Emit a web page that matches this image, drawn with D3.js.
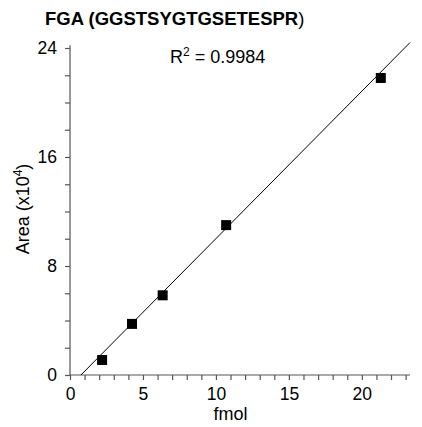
<!DOCTYPE html>
<html><head><meta charset="utf-8">
<script src="https://cdn.jsdelivr.net/npm/d3@7"></script>
<style>body{margin:0;background:#fff}svg{font-family:"Liberation Sans",Arial,sans-serif}</style>
</head><body><svg id="c" width="422" height="427"></svg>
<script>
const fmol = [2.2, 4.25, 6.35, 10.7, 21.3];
const area = [1.1, 3.75, 5.85, 11.0, 21.8];
const xTicks = [0, 5, 10, 15, 20];
const yTicks = [0, 8, 16, 24];
const fitSlope = 1.082;
const fitIntercept = -0.81;
const r2Label = "0.9984";

const svg = d3.select("#c");
const x = d3.scaleLinear().domain([0, 23.3]).range([70, 410]);
const y = d3.scaleLinear().domain([0, 24]).range([375, 48]);

const xAxis = svg.append("g").attr("transform","translate(0,375)")
  .call(d3.axisBottom(x).tickValues(d3.range(0,24,1)).tickSize(5).tickPadding(6).tickFormat(d => xTicks.includes(d) ? d : ""));
xAxis.select(".domain").attr("d", `M${x(0)},0H${x(23.3)}`);
const yAxis = svg.append("g").attr("transform","translate(70,0)")
  .call(d3.axisLeft(y).tickValues(d3.range(0,25,2)).tickSize(5).tickPadding(8).tickFormat(d => yTicks.includes(d) ? d : ""));
yAxis.select(".domain").attr("d", `M0,${y(0)}V${y(24.2)}`);
[xAxis, yAxis].forEach(a => {
  a.selectAll("path,line").attr("stroke","#555").attr("stroke-width",1.2);
  a.selectAll("text").attr("font-size",17.5).attr("fill","#000").attr("font-family","Liberation Sans, Arial, sans-serif");
});
xAxis.selectAll("text").attr("dy","0.8em");

// fit line
const x0 = -fitIntercept / fitSlope, x1 = 23.3;
svg.append("line").attr("x1", x(x0)).attr("y1", y(0)).attr("x2", x(x1)).attr("y2", y(fitSlope*x1+fitIntercept))
  .attr("stroke","#000").attr("stroke-width",1);

svg.selectAll("rect.pt").data(fmol).enter().append("rect").attr("class","pt")
  .attr("x",(d)=>x(d)-5).attr("y",(d,i)=>y(area[i])-5).attr("width",10).attr("height",10).attr("fill","#000");

const t = svg.append("text").attr("x",45).attr("y",25).attr("font-size",18.5).attr("font-weight","bold");
t.append("tspan").text("FGA (GGSTSYGTGSETESPR");
t.append("tspan").attr("font-weight","normal").text(")");

const r = svg.append("text").attr("x",170).attr("y",63).attr("font-size",18);
r.append("tspan").text("R");
r.append("tspan").attr("font-size",12).attr("dy",-7).text("2");
r.append("tspan").attr("dy",7).text(" = " + r2Label);

svg.append("text").attr("x",x(11)).attr("y",420).attr("text-anchor","middle").attr("font-size",18).text("fmol");
const yl = svg.append("text").attr("transform","translate(29,209) rotate(-90)").attr("text-anchor","middle").attr("font-size",18);
yl.append("tspan").text("Area (x10");
yl.append("tspan").attr("font-size",12).attr("dy",-7).text("4");
yl.append("tspan").attr("dy",7).text(")");
</script></body></html>
